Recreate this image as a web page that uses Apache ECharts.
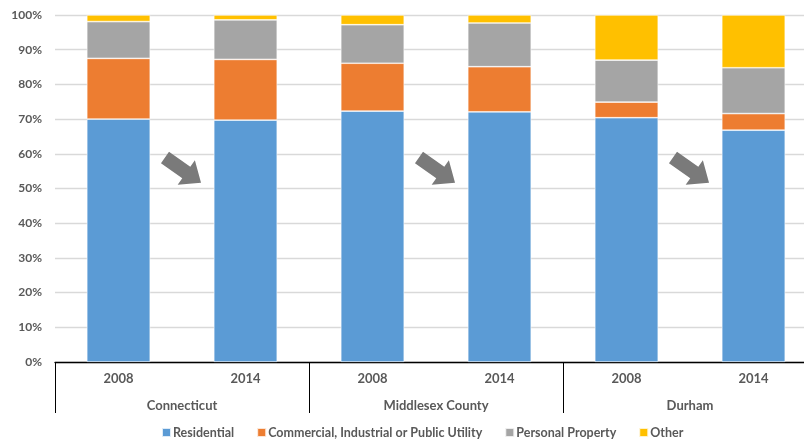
<!DOCTYPE html>
<html>
<head>
<meta charset="utf-8">
<script src="https://cdn.jsdelivr.net/npm/echarts@6/dist/echarts.min.js"></script>
<style>
  html, body { margin: 0; padding: 0; background: #fff; }
  #chart { width: 804px; height: 443px; }
</style>
</head>
<body>
<div id="chart"></div>
<script>
// Share of grand list value by property type (%)
var years = ['2008', '2014', '2008', '2014', '2008', '2014'];
var places = ['Connecticut', 'Middlesex County', 'Durham'];
var residential = [70.0, 69.7, 72.3, 72.1, 70.4, 66.8];
var commercial = [17.5, 17.5, 13.8, 13.0, 4.5, 4.8];
var personalProperty = [10.6, 11.4, 11.1, 12.6, 12.1, 13.2];
var other = [1.9, 1.4, 2.8, 2.3, 13.0, 15.2];
var seriesNames = ['Residential', 'Commercial, Industrial or Public Utility', 'Personal Property', 'Other'];
var yTicks = [0, 10, 20, 30, 40, 50, 60, 70, 80, 90, 100];
// Trend arrows sit between each place's two years, at this level (%)
var arrowLevel = 55;

var FONT = 'Lato, "Open Sans", sans-serif';
var TEXT = '#595959';
var colors = ['#5b9bd5', '#ed7d31', '#a5a5a5', '#ffc000'];

var chart = echarts.init(document.getElementById('chart'), null, { renderer: 'canvas' });

function barSeries(name, data, color) {
  return {
    name: name,
    type: 'bar',
    stack: 'total',
    xAxisIndex: 0,
    yAxisIndex: 0,
    barWidth: '50%',
    data: data,
    itemStyle: { color: color, borderColor: 'rgba(255,255,255,0.8)', borderWidth: 0.7 },
    emphasis: { disabled: true }
  };
}

var option = {
  animation: false,
  color: colors,
  grid: { left: 55, top: 15, right: -13, bottom: 81, containLabel: false, outerBoundsMode: 'none' },
  legend: {
    top: 421,
    left: 156,
    itemWidth: 9,
    itemHeight: 9,
    itemGap: 22,
    icon: 'rect',
    textStyle: { fontFamily: FONT, fontSize: 12.5, fontWeight: 'bold', color: TEXT, padding: [0, 0, 0, -3] },
    data: seriesNames
  },
  xAxis: [
    {
      type: 'category',
      data: years,
      position: 'bottom',
      axisLine: { show: true, lineStyle: { color: '#000', width: 1.3 } },
      axisTick: {
        show: true,
        alignWithLabel: false,
        length: 51,
        interval: function (i) { return i % 2 === 0; },
        lineStyle: { color: '#000', width: 1 }
      },
      axisLabel: { fontFamily: FONT, fontSize: 13, fontWeight: 'bold', color: TEXT, margin: 10, interval: 0 },
      splitLine: { show: false }
    },
    {
      type: 'category',
      data: places,
      position: 'bottom',
      offset: 27,
      axisLine: { show: false },
      axisTick: { show: false },
      axisLabel: { fontFamily: FONT, fontSize: 13, fontWeight: 'bold', color: TEXT, margin: 10, interval: 0 },
      splitLine: { show: false }
    }
  ],
  yAxis: {
    type: 'value',
    min: yTicks[0],
    max: yTicks[yTicks.length - 1],
    interval: yTicks[1] - yTicks[0],
    axisLine: { show: false },
    axisTick: { show: false },
    axisLabel: { formatter: '{value}%', fontFamily: FONT, fontSize: 12, fontWeight: 'bold', color: TEXT, margin: 13 },
    splitLine: { lineStyle: { color: '#d9d9d9', width: 1.3 } }
  },
  series: [
    barSeries(seriesNames[0], residential, colors[0]),
    barSeries(seriesNames[1], commercial, colors[1]),
    barSeries(seriesNames[2], personalProperty, colors[2]),
    barSeries(seriesNames[3], other, colors[3])
  ]
};

chart.setOption(option);

// Block arrows between the 2008 and 2014 bars of each place
var arrowShape = [[-22, -7], [4, -7], [4, -15], [22, 0], [4, 15], [4, 7], [-22, 7]];
var graphics = [];
for (var g = 0; g < places.length; g++) {
  var a = chart.convertToPixel({ xAxisIndex: 0, yAxisIndex: 0 }, [2 * g, arrowLevel]);
  var b = chart.convertToPixel({ xAxisIndex: 0, yAxisIndex: 0 }, [2 * g + 1, arrowLevel]);
  graphics.push({
    type: 'polygon',
    x: (a[0] + b[0]) / 2 + 1,
    y: a[1] - 1,
    rotation: -35 * Math.PI / 180,
    shape: { points: arrowShape },
    style: { fill: '#7a7a7a' },
    silent: true,
    z: 10
  });
}
chart.setOption({ graphic: graphics });
</script>
</body>
</html>
